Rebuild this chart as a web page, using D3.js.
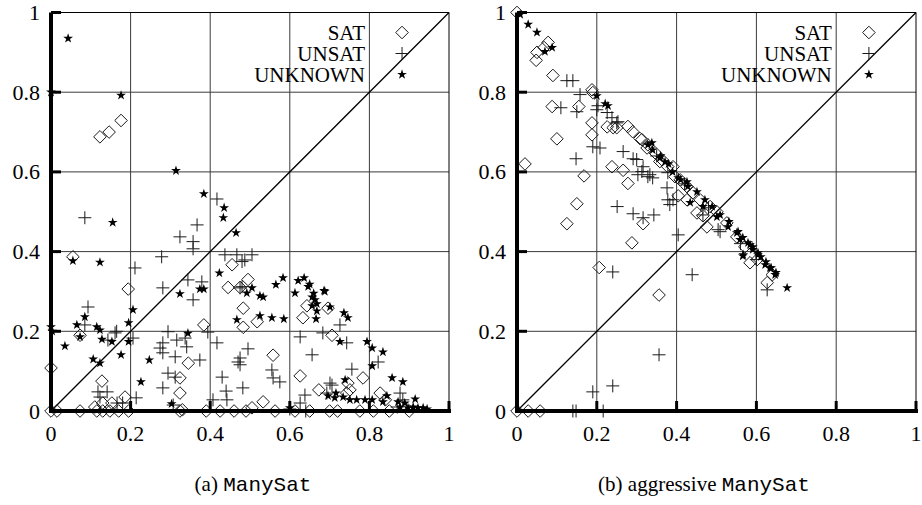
<!DOCTYPE html>
<html><head><meta charset="utf-8">
<script src="https://cdn.jsdelivr.net/npm/d3@7"></script>
<style>
html,body{margin:0;padding:0;background:#fff;}
svg{display:block;}
</style>
</head><body>
<svg id="chart" width="922" height="505"></svg>
<script>
// ---------- DATA ----------
const ticks = [0, 0.2, 0.4, 0.6, 0.8, 1];
const tickLabels = ["0", "0.2", "0.4", "0.6", "0.8", "1"];
const seriesNames = ["SAT", "UNSAT", "UNKNOWN"];
const captions = [["(a) ", "ManySat"], ["(b) aggressive ", "ManySat"]];

// Panel (a) ManySat
const satA = [[0.123,0.688],[0.146,0.70],[0.176,0.729],[0.055,0.387],[0.194,0.306],[0.073,0.19],[0.0,0.108],
[0.128,0.075],[0.186,0.035],[0.384,0.216],[0.345,0.12],[0.324,0.083],[0.324,0.045],[0.324,0.0],[0.455,0.367],
[0.445,0.31],[0.483,0.258],[0.483,0.21],[0.495,0.33],[0.475,0.31],[0.518,0.224],[0.558,0.14],[0.626,0.088],
[0.633,0.234],[0.643,0.264],[0.696,0.258],[0.706,0.19],[0.673,0.053],[0.746,0.07],[0.784,0.083],[0.743,0.045],
[0.751,0.053],[0.827,0.045],[0.84,0.028],[0.533,0.023],[0.505,0.008],[0.11,0.01],[0.13,0.02],[0.153,0.02],
[0,0],[0.015,0],[0.073,0],[0.115,0],[0.13,0],[0.148,0],[0.17,0],[0.195,0],[0.33,0.003],[0.39,0],[0.425,0],
[0.46,0],[0.49,0],[0.563,0],[0.613,0],[0.65,0],[0.70,0],[0.72,0],[0.776,0],[0.81,0],[0.85,0],[0.90,0]];
const unsatA = [[0.417,0.532],[0.085,0.485],[0.367,0.467],[0.324,0.437],[0.357,0.425],[0.357,0.407],[0.278,0.387],
[0.211,0.359],[0.281,0.309],[0.344,0.329],[0.379,0.324],[0.357,0.279],[0.093,0.261],[0.085,0.216],[0.165,0.2],
[0.206,0.183],[0.143,0.178],[0.294,0.199],[0.281,0.171],[0.316,0.178],[0.337,0.183],[0.341,0.161],[0.281,0.146],
[0.312,0.136],[0.374,0.128],[0.417,0.171],[0.394,0.198],[0.294,0.095],[0.312,0.085],[0.281,0.058],[0.118,0.048],
[0.141,0.048],[0.123,0.035],[0.214,0.033],[0.166,0.02],[0.307,0.015],[0.407,0.028],[0.43,0.085],[0.442,0.028],
[0.437,0.392],[0.467,0.392],[0.487,0.379],[0.475,0.309],[0.505,0.392],[0.48,0.375],[0.48,0.312],[0.475,0.133],
[0.495,0.156],[0.475,0.116],[0.482,0.058],[0.555,0.103],[0.558,0.083],[0.575,0.073],[0.626,0.186],[0.656,0.141],
[0.683,0.196],[0.726,0.216],[0.743,0.171],[0.701,0.07],[0.756,0.105],[0.638,0.04],[0.626,0.02],[0.693,0.045],
[0.822,0.123],[0.877,0.045],[0.884,0.028],[0.706,0.065],[0.47,0.123],[0.161,0.196],[0.274,0.158],[0.18,0.02],
[0.64,0.0],[0.87,0.01],[0.6,0.005],[0.44,0.05]];
const unknownA = [[0.043,0.935],[0.0,0.8],[0.176,0.792],[0.314,0.603],[0.384,0.545],[0.435,0.51],[0.155,0.473],
[0.123,0.373],[0.433,0.485],[0.465,0.447],[0.423,0.346],[0.324,0.294],[0.374,0.306],[0.384,0.306],[0.055,0.377],
[0.206,0.254],[0.085,0.236],[0.065,0.216],[0.115,0.211],[0.195,0.221],[0.0,0.211],[0.003,0.2],[0.123,0.203],
[0.073,0.186],[0.128,0.18],[0.153,0.174],[0.195,0.174],[0.035,0.163],[0.176,0.141],[0.106,0.13],[0.123,0.12],
[0.247,0.128],[0.226,0.073],[0.344,0.195],[0.467,0.229],[0.303,0.018],[0.583,0.334],[0.565,0.317],[0.505,0.309],
[0.492,0.296],[0.525,0.289],[0.533,0.286],[0.525,0.239],[0.555,0.234],[0.585,0.231],[0.621,0.327],[0.636,0.334],
[0.646,0.312],[0.613,0.296],[0.656,0.286],[0.663,0.279],[0.668,0.269],[0.686,0.302],[0.656,0.264],[0.701,0.261],
[0.736,0.246],[0.746,0.234],[0.666,0.231],[0.726,0.174],[0.794,0.174],[0.807,0.158],[0.834,0.148],[0.807,0.113],
[0.739,0.078],[0.857,0.083],[0.884,0.073],[0.915,0.03],[0.716,0.045],[0.6,0.008],[0.696,0.038],[0.713,0.033],
[0.734,0.035],[0.751,0.028],[0.768,0.028],[0.789,0.028],[0.807,0.028],[0.844,0.038],[0.834,0.023],[0.872,0.023],
[0.889,0.02],[0.91,0.01],[0.922,0.008],[0.935,0.008],[0.945,0.005],[0.897,0.008],[0.877,0.01],[0.668,0.251],
[0.688,0.3],[0.65,0.318],[0.66,0.295]];

// Panel (b) aggressive ManySat
const satB = [[0,1.0],[0.048,0.88],[0.05,0.9],[0.068,0.912],[0.078,0.925],[0.09,0.842],[0.188,0.806],[0.19,0.799],
[0.088,0.764],[0.155,0.764],[0.188,0.723],[0.188,0.693],[0.1,0.683],[0.226,0.713],[0.25,0.711],[0.241,0.711],
[0.02,0.62],[0.168,0.59],[0.238,0.613],[0.266,0.604],[0.278,0.571],[0.15,0.52],[0.125,0.47],[0.316,0.47],
[0.288,0.422],[0.206,0.36],[0.356,0.291],[0,0],[0.028,0],[0.058,0],[0.404,0.54],[0.426,0.53],[0.466,0.49],
[0.476,0.462],[0.584,0.372],[0.627,0.322],[0.278,0.714],[0.29,0.701],[0.308,0.684],[0.313,0.681],[0.326,0.66],
[0.328,0.668],[0.346,0.648],[0.358,0.626],[0.363,0.631],[0.378,0.613],[0.391,0.613],[0.396,0.588],[0.409,0.58],
[0.426,0.563],[0.441,0.548],[0.451,0.497],[0.459,0.53],[0.484,0.513],[0.501,0.5],[0.526,0.472],[0.551,0.437],
[0.571,0.412],[0.602,0.38],[0.64,0.342]];
const unsatB = [[0.125,0.829],[0.14,0.829],[0.158,0.794],[0.11,0.761],[0.15,0.751],[0.203,0.766],[0.19,0.663],
[0.148,0.633],[0.266,0.651],[0.291,0.633],[0.316,0.613],[0.313,0.601],[0.333,0.593],[0.251,0.513],[0.291,0.495],
[0.316,0.485],[0.343,0.492],[0.378,0.598],[0.378,0.53],[0.391,0.53],[0.226,0.749],[0.238,0.736],[0.25,0.723],
[0.404,0.442],[0.24,0.349],[0.439,0.342],[0.356,0.141],[0.19,0.048],[0.24,0.063],[0.14,0],[0.148,0],[0.216,0],
[0.3,0.631],[0.303,0.593],[0.328,0.588],[0.34,0.585],[0.376,0.56],[0.383,0.518],[0.466,0.492],[0.504,0.455],
[0.627,0.304],[0.509,0.45],[0.2,0.756],[0.253,0.726],[0.208,0.66],[0.35,0.64],[0.42,0.57],[0.48,0.51],
[0.56,0.42],[0.6,0.38]];
const unknownB = [[0.008,0.995],[0.028,0.97],[0.05,0.95],[0.07,0.902],[0.088,0.912],[0.2,0.791],[0.221,0.771],
[0.228,0.766],[0.328,0.668],[0.338,0.673],[0.34,0.655],[0.358,0.635],[0.36,0.64],[0.371,0.625],[0.38,0.62],
[0.39,0.6],[0.404,0.585],[0.41,0.58],[0.426,0.575],[0.428,0.563],[0.434,0.523],[0.451,0.55],[0.466,0.513],
[0.471,0.53],[0.489,0.513],[0.501,0.487],[0.509,0.492],[0.529,0.462],[0.531,0.475],[0.551,0.447],[0.554,0.45],
[0.559,0.43],[0.566,0.435],[0.566,0.389],[0.567,0.392],[0.579,0.422],[0.584,0.417],[0.591,0.412],[0.591,0.405],
[0.604,0.397],[0.604,0.392],[0.611,0.387],[0.622,0.367],[0.624,0.374],[0.634,0.359],[0.637,0.359],[0.647,0.342],
[0.649,0.347],[0.677,0.309]];

// ---------- DRAW ----------
const SERIF = "'Liberation Serif', 'Times New Roman', Tinos, 'DejaVu Serif', serif";
const MONO = "'Liberation Mono', 'Courier New', 'DejaVu Sans Mono', monospace";
const svg = d3.select("#chart");
const panels = [
  {x0: 51, x1: 449, data: [satA, unsatA, unknownA], caption: captions[0], capX: 253},
  {x0: 517, x1: 916, data: [satB, unsatB, unknownB], caption: captions[1], capX: 704}
];
const yTop = 12.5, yBot = 411;
const ink = "#1a1a1a";

const diamondPath = r => `M0,${-r}L${r},0L0,${r}L${-r},0Z`;
const plusPath = r => `M${-r},0H${r}M0,${-r}V${r}`;
const starPath = d3.symbol(d3.symbolStar, 30)();

function drawMarker(g, type, px, py) {
  if (type === 0) {
    g.append("path").attr("d", diamondPath(6.3)).attr("transform", `translate(${px},${py})`)
      .attr("fill", "none").attr("stroke", ink).attr("stroke-width", 1);
  } else if (type === 1) {
    g.append("path").attr("d", plusPath(6.5)).attr("transform", `translate(${px},${py})`)
      .attr("fill", "none").attr("stroke", ink).attr("stroke-width", 1);
  } else {
    g.append("path").attr("d", starPath).attr("transform", `translate(${px},${py})`)
      .attr("fill", "#000").attr("stroke", "none");
  }
}

panels.forEach(p => {
  const x = d3.scaleLinear().domain([0, 1]).range([p.x0, p.x1]);
  const y = d3.scaleLinear().domain([0, 1]).range([yBot, yTop]);
  const g = svg.append("g");

  // grid
  const grid = g.append("g").attr("stroke", "#3a3a3a").attr("stroke-width", 1);
  ticks.slice(1, -1).forEach(t => {
    grid.append("line").attr("x1", x(t)).attr("x2", x(t)).attr("y1", y(0)).attr("y2", y(1));
    grid.append("line").attr("x1", x(0)).attr("x2", x(1)).attr("y1", y(t)).attr("y2", y(t));
  });
  // top/right border
  g.append("line").attr("x1", x(0)).attr("x2", x(1)).attr("y1", y(1)).attr("y2", y(1)).attr("stroke", "#000").attr("stroke-width", 1);
  g.append("line").attr("x1", x(1)).attr("x2", x(1)).attr("y1", y(0)).attr("y2", y(1)).attr("stroke", "#000").attr("stroke-width", 1);
  // diagonal
  g.append("line").attr("x1", x(0)).attr("y1", y(0)).attr("x2", x(1)).attr("y2", y(1))
    .attr("stroke", "#000").attr("stroke-width", 1.3);

  // legend
  seriesNames.forEach((name, i) => {
    const ly = [32.5, 53.5, 74.5][i];
    g.append("text").attr("x", x(0.789)).attr("y", ly + 7.5)
      .attr("text-anchor", "end").style("font-family", SERIF).style("font-size", "21px").text(name);
    drawMarker(g, i, x(0.882), ly);
  });

  // points
  const pts = g.append("g");
  p.data.forEach((arr, i) => {
    arr.forEach(d => drawMarker(pts, i, x(d[0]), y(d[1])));
  });

  // axes (thick)
  const axisG = g.append("g").attr("stroke", "#000");
  axisG.append("line").attr("x1", x(0)).attr("x2", x(0)).attr("y1", y(1)).attr("y2", y(0) + 2).attr("stroke-width", 4);
  axisG.append("line").attr("x1", x(0) - 2).attr("x2", x(1) + 2).attr("y1", y(0)).attr("y2", y(0)).attr("stroke-width", 4);
  ticks.forEach(t => {
    axisG.append("line").attr("x1", x(0)).attr("x2", x(0) + 10).attr("y1", y(t)).attr("y2", y(t)).attr("stroke-width", 3);
    axisG.append("line").attr("x1", x(t)).attr("x2", x(t)).attr("y1", y(0)).attr("y2", y(0) - 10).attr("stroke-width", 3);
  });

  // tick labels
  ticks.forEach((t, i) => {
    g.append("text").attr("x", x(0) - 11).attr("y", y(t) + 7.5)
      .attr("text-anchor", "end").style("font-family", SERIF).style("font-size", "22px").text(tickLabels[i]);
    g.append("text").attr("x", x(t)).attr("y", 441)
      .attr("text-anchor", "middle").style("font-family", SERIF).style("font-size", "22px").text(tickLabels[i]);
  });

  // caption
  const cap = g.append("text").attr("x", p.capX).attr("y", 491).attr("text-anchor", "middle")
    .style("font-family", SERIF).style("font-size", "21px");
  cap.append("tspan").text(p.caption[0]);
  cap.append("tspan").style("font-family", MONO).text(p.caption[1]);
});
</script>
</body></html>
